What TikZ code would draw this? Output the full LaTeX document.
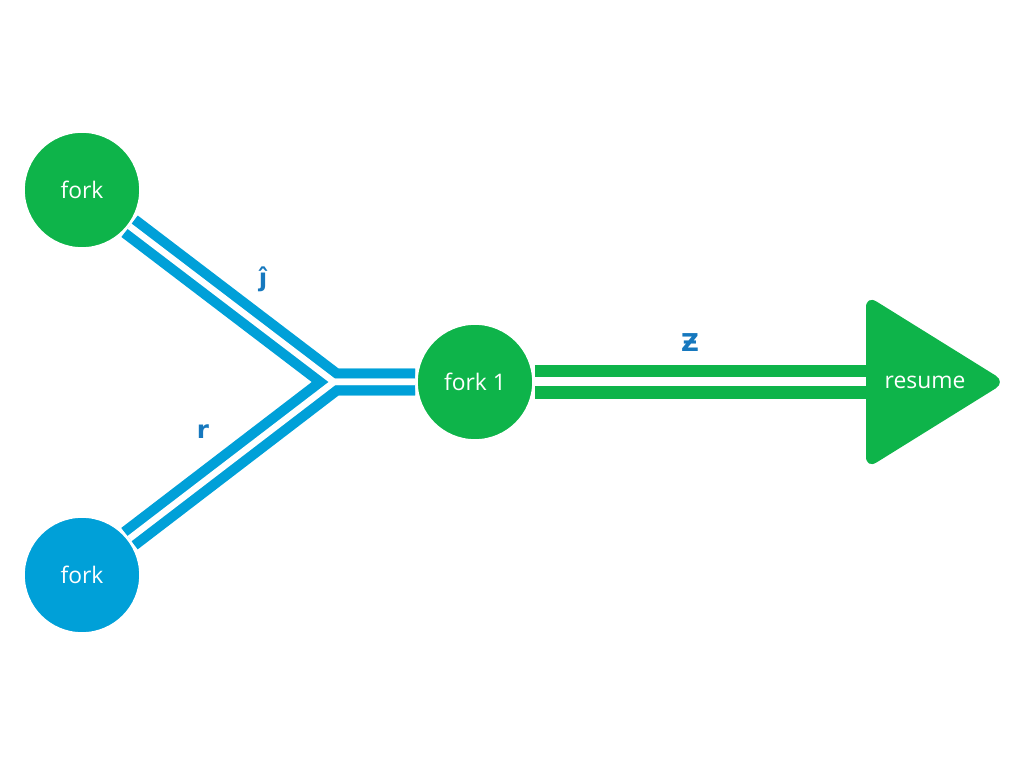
\documentclass[tikz,border=0pt]{standalone}
\usepackage{fontspec}
\setmainfont{Open Sans}
\newfontfamily\labelfont{DejaVu Sans}
\usetikzlibrary{backgrounds}
\definecolor{forkgreen}{RGB}{14,180,74}
\definecolor{forkblue}{RGB}{0,160,216}
\definecolor{labelblue}{RGB}{22,120,190}
\tikzset{
  forknode/.style={circle,minimum size=2.34cm,draw=white,line width=1.5pt,
    text=white,font=\fontsize{13}{15}\selectfont},
  bluepipe/.style={draw=forkblue,line width=0.54cm},
  greenpipe/.style={draw=forkgreen,line width=0.7cm},
  pipegap/.style={draw=white,line width=#1},
  pipelabel/.style={text=labelblue,font=\labelfont\bfseries\fontsize{14}{16}\selectfont}
}
\begin{document}
\begin{tikzpicture}[x=0.02cm,y=-0.02cm]
  \useasboundingbox (0,0) rectangle (1024,766);
  \node[forknode,fill=forkgreen] (forkA) at (82,190) {fork};
  \node[forknode,fill=forkblue] (forkB) at (82,575) {fork};
  \node[forknode,fill=forkgreen] (fork1) at (475,382) {fork 1};
  \coordinate (J) at (334,382);
  \fill[forkgreen,rounded corners=7pt] (866,295) -- (1006,382) -- (866,469) -- cycle;
  \node[text=white,font=\fontsize{13}{15}\selectfont] (resume) at (925,382) {resume};
  \begin{scope}[on background layer]
    \draw[bluepipe] (forkA) -- (J) -- (fork1);
    \draw[bluepipe] (forkB) -- (J) -- (fork1);
    \draw[pipegap=0.13cm] (forkA) -- (J) -- (fork1);
    \draw[pipegap=0.13cm] (forkB) -- (J) -- (fork1);
    \draw[greenpipe] (fork1) -- (resume);
    \draw[pipegap=0.18cm] (fork1) -- (resume);
  \end{scope}
  \node[pipelabel] (labA) at (263,279) {ĵ};
  \node[pipelabel] (labB) at (203,432) {r};
  \node[pipelabel] (labC) at (690,343) {Ƶ};
\end{tikzpicture}
\end{document}
